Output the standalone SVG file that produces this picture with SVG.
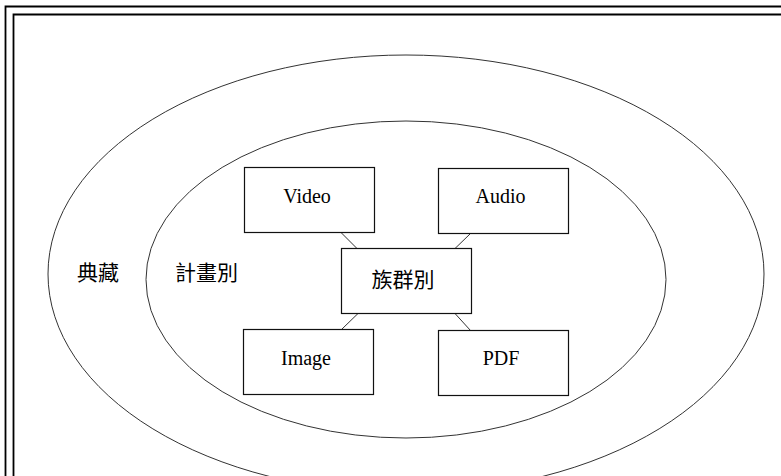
<svg xmlns="http://www.w3.org/2000/svg" width="781" height="476" viewBox="0 0 781 476">
<style>
.frame{fill:none;stroke:#000;stroke-width:1.8}
.ell{fill:none;stroke:#333;stroke-width:1}
.box{fill:#fff;stroke:#111;stroke-width:1.2}
.con{stroke:#333;stroke-width:1;fill:none}
.lat{font-family:"Liberation Serif",serif;font-size:20px;fill:#000;text-anchor:middle}
.cjk{font-family:"Noto Sans CJK TC","Noto Sans CJK SC",sans-serif;font-size:21px;fill:#000}
</style>
<rect width="781" height="476" fill="#fff"/>
<g id="frame">
<polyline class="frame" points="5.5,476 5.5,6.5 781,6.5"/>
<polyline class="frame" points="13.5,476 13.5,14.5 781,14.5"/>
</g>
<g id="collection">
<ellipse class="ell" cx="406" cy="274" rx="358" ry="219"/>
<text class="cjk" x="77" y="280">典藏</text>
</g>
<g id="project">
<ellipse class="ell" cx="406" cy="279.5" rx="260" ry="158.5"/>
<text class="cjk" x="175" y="280">計畫別</text>
</g>
<g id="connectors">
<line class="con" x1="341" y1="232.5" x2="357" y2="248.5"/>
<line class="con" x1="470.5" y1="233.5" x2="455" y2="248.5"/>
<line class="con" x1="358" y1="313.5" x2="341.5" y2="329.5"/>
<line class="con" x1="455" y1="313.5" x2="470.5" y2="330.5"/>
</g>
<g id="video">
<rect class="box" x="244.5" y="167.5" width="130" height="65"/>
<text class="lat" x="307" y="203">Video</text>
</g>
<g id="audio">
<rect class="box" x="438.5" y="168.5" width="130" height="65"/>
<text class="lat" x="500.5" y="203">Audio</text>
</g>
<g id="ethnic">
<rect class="box" x="341.5" y="248.5" width="130" height="65"/>
<text class="cjk" x="403" y="287" text-anchor="middle">族群別</text>
</g>
<g id="image">
<rect class="box" x="243.5" y="329.5" width="130" height="65"/>
<text class="lat" x="306" y="365">Image</text>
</g>
<g id="pdf">
<rect class="box" x="438.5" y="330.5" width="130" height="65"/>
<text class="lat" x="501" y="365">PDF</text>
</g>
</svg>
